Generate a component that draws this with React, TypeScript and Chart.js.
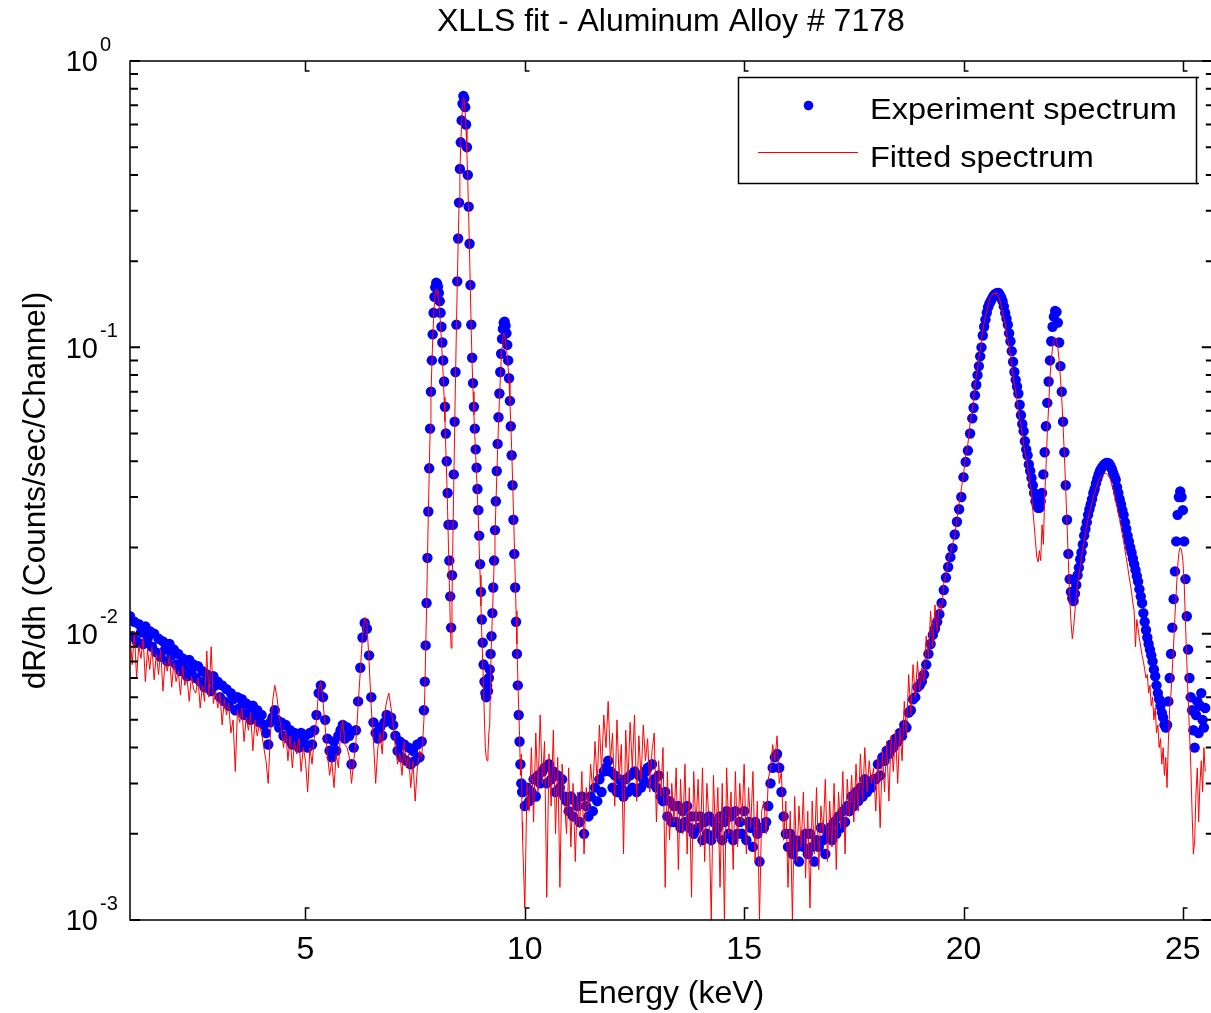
import { useEffect, useRef } from 'react';
import { Chart, registerables } from 'chart.js';

Chart.register(...registerables);

const FONT = "'Liberation Sans', Arial, Helvetica, sans-serif";

const chartTitle = 'XLLS fit - Aluminum Alloy # 7178';
const xAxisTitle = 'Energy (keV)';
const yAxisTitle = 'dR/dh (Counts/sec/Channel)';
const seriesLabels = ['Experiment spectrum', 'Fitted spectrum'];
const xTickValues = [5, 10, 15, 20, 25];
const yDecadeValues = [0.001, 0.01, 0.1, 1];
const yDecadeExponents = ['-3', '-2', '-1', '0'];
const yMinorMultipliers = [2, 3, 4, 5, 6, 7, 8, 9];
const xRange = [1, 25.66];
const yRange = [0.001, 1];

const energyKeV = [
  1.00,1.05,1.10,1.15,1.20,1.25,1.30,1.35,1.40,1.45,
  1.50,1.55,1.60,1.65,1.70,1.75,1.80,1.85,1.90,1.95,
  2.00,2.05,2.10,2.15,2.20,2.25,2.30,2.35,2.40,2.45,
  2.50,2.55,2.60,2.65,2.70,2.75,2.80,2.85,2.90,2.95,
  3.00,3.05,3.10,3.15,3.20,3.25,3.30,3.35,3.40,3.45,
  3.50,3.55,3.60,3.65,3.70,3.75,3.80,3.85,3.90,3.95,
  4.00,4.05,4.10,4.15,4.20,4.25,4.30,4.35,4.40,4.45,
  4.50,4.55,4.60,4.65,4.70,4.75,4.80,4.85,4.90,4.95,
  5.00,5.05,5.10,5.15,5.20,5.25,5.30,5.35,5.40,5.45,
  5.50,5.55,5.60,5.65,5.70,5.75,5.80,5.85,5.90,5.95,
  6.00,6.05,6.10,6.15,6.20,6.25,6.30,6.35,6.40,6.45,
  6.50,6.55,6.60,6.65,6.70,6.75,6.80,6.85,6.90,6.95,
  7.00,7.05,7.10,7.15,7.20,7.25,7.30,7.35,7.40,7.45,
  7.50,7.55,7.60,7.65,
  7.70,7.72,7.74,7.76,7.78,7.80,7.82,7.84,7.86,7.88,
  7.90,7.92,7.94,7.96,7.98,8.00,8.02,8.04,8.06,8.08,
  8.10,8.12,8.14,8.16,8.18,8.20,8.22,8.24,8.26,8.28,
  8.30,8.32,8.34,8.36,8.38,8.40,8.42,8.44,8.46,8.48,
  8.50,8.52,8.54,8.56,8.58,8.60,8.62,8.64,8.66,8.68,
  8.70,8.72,8.74,8.76,8.78,8.80,8.82,8.84,8.86,8.88,
  8.90,8.92,8.94,8.96,8.98,9.00,9.02,9.04,9.06,9.08,
  9.10,9.12,9.14,9.16,9.18,9.20,9.22,9.24,9.26,9.28,
  9.30,9.32,9.34,9.36,9.38,9.40,9.42,9.44,9.46,9.48,
  9.50,9.52,9.54,9.56,9.58,9.60,9.62,9.64,9.66,9.68,
  9.70,9.72,9.74,9.76,9.78,9.80,9.82,9.84,9.86,9.88,
  9.90,9.92,9.94,
  9.95,10.00,10.05,10.10,10.15,10.20,10.25,10.30,10.35,10.40,
  10.45,10.50,10.55,10.60,10.65,10.70,10.75,10.80,10.85,10.90,
  10.95,11.00,11.05,11.10,11.15,11.20,11.25,11.30,11.35,11.40,
  11.45,11.50,11.55,11.60,11.65,11.70,11.75,11.80,11.85,11.90,
  11.95,12.00,12.05,12.10,12.15,12.20,12.25,12.30,12.35,12.40,
  12.45,12.50,12.55,12.60,12.65,12.70,12.75,12.80,12.85,12.90,
  12.95,13.00,13.05,13.10,13.15,13.20,13.25,13.30,13.35,13.40,
  13.45,13.50,13.55,13.60,13.65,13.70,13.75,13.80,13.85,13.90,
  13.95,14.00,14.05,14.10,14.15,14.20,14.25,14.30,14.35,14.40,
  14.45,14.50,14.55,14.60,14.65,14.70,14.75,14.80,14.85,14.90,
  14.95,15.00,15.05,15.10,15.15,15.20,15.25,15.30,15.35,15.40,
  15.45,15.50,15.55,15.60,15.65,15.70,15.75,15.80,15.85,15.90,
  15.95,16.00,16.05,16.10,16.15,16.20,16.25,16.30,16.35,16.40,
  16.45,16.50,16.55,16.60,16.65,16.70,16.75,16.80,16.85,16.90,
  16.95,17.00,17.05,17.10,17.15,17.20,17.25,17.30,17.35,17.40,
  17.45,17.50,17.55,17.60,17.65,17.70,17.75,17.80,17.85,17.90,
  17.95,
  18.00,18.05,18.10,18.15,18.20,18.25,18.30,18.35,18.40,18.45,
  18.50,18.55,18.60,18.65,18.70,18.75,18.80,18.85,18.90,18.95,
  19.00,19.05,19.10,19.15,19.20,19.25,19.30,19.35,19.40,19.45,
  19.50,19.55,19.60,19.65,19.70,19.75,19.80,19.85,19.90,19.95,
  20.00,20.05,20.10,20.15,20.20,
  20.23,20.26,20.29,20.32,20.35,20.38,20.41,20.44,20.47,20.50,
  20.53,20.56,20.59,20.62,20.65,20.68,20.71,20.74,20.77,20.80,
  20.83,20.86,20.89,20.92,20.95,20.98,21.01,21.04,21.07,21.10,
  21.13,21.16,21.19,21.22,21.25,21.28,21.31,21.34,21.37,21.40,
  21.43,21.46,21.49,21.52,21.55,21.58,21.61,21.64,21.67,21.70,
  21.73,21.76,21.79,21.82,21.85,21.88,21.91,21.94,21.97,22.00,
  22.03,22.06,22.09,22.12,22.15,22.18,22.21,22.24,22.27,22.30,
  22.33,22.36,22.39,22.42,22.45,22.48,22.51,22.54,22.57,22.60,
  22.63,22.66,22.69,22.72,22.75,22.78,22.81,22.84,22.87,22.90,
  22.93,22.96,22.99,23.02,23.05,23.08,23.11,23.14,23.17,23.20,
  23.23,23.26,23.29,23.32,23.35,23.38,23.41,23.44,23.47,23.50,
  23.53,23.56,23.59,23.62,23.65,23.68,23.71,23.74,23.77,23.80,
  23.83,23.86,23.89,23.92,23.95,23.98,24.01,24.04,24.07,24.10,
  24.13,24.16,24.19,24.22,24.25,24.28,24.31,24.34,24.37,24.40,
  24.43,24.46,24.49,24.52,24.55,24.58,24.61,24.64,24.67,24.70,
  24.73,24.76,24.79,24.82,24.85,24.88,24.91,24.94,24.97,25.00,
  25.03,25.06,25.09,25.12,25.15,25.18,25.21,25.24,25.27,25.30,
  25.33,25.36,25.39,25.42,25.45,25.48,25.51,
];

const experimentSpectrum = [
  0.0115,0.0098,0.0110,0.0094,0.0108,0.0101,0.0092,0.0106,0.0096,0.0102,
  0.0090,0.0100,0.0086,0.0096,0.0083,0.0094,0.0088,0.0080,0.0092,0.0084,
  0.0088,0.0078,0.0085,0.0074,0.0082,0.0077,0.0071,0.0081,0.0073,0.0078,
  0.0070,0.0077,0.0068,0.0074,0.0065,0.0072,0.0069,0.0063,0.0071,0.0066,
  0.0068,0.0060,0.0066,0.0058,0.0064,0.0056,0.0062,0.0059,0.0054,0.0060,
  0.0055,0.0059,0.0052,0.0057,0.0053,0.0050,0.0056,0.0051,0.0054,0.0049,
  0.0052,0.0048,0.0045,0.0041,0.0049,0.0051,0.0054,0.0050,0.0047,0.0049,
  0.0044,0.0048,0.0043,0.0046,0.0041,0.0045,0.0043,0.0040,0.0045,0.0042,
  0.0044,0.0040,0.0045,0.0041,0.0046,0.0052,0.0062,0.0066,0.0060,0.0050,
  0.0043,0.0039,0.0037,0.0042,0.0039,0.0044,0.0046,0.0048,0.0043,0.0047,
  0.0044,0.0035,0.0040,0.0046,0.0058,0.0076,0.0097,0.0109,0.0104,0.0084,
  0.0060,0.0049,0.0045,0.0043,0.0047,0.0044,0.0049,0.0052,0.0050,0.0051,
  0.0048,0.0044,0.0039,0.0042,0.0037,0.0041,0.0036,0.0040,0.0035,0.0039,
  0.0036,0.0041,0.0037,0.0042,
  0.0054,0.0068,0.0091,0.0128,0.0184,0.0267,0.0378,0.052,0.070,0.090,
  0.111,0.132,0.150,0.162,0.168,0.167,0.163,0.155,0.145,0.132,
  0.118,0.104,0.090,0.076,0.062,0.050,0.040,0.031,0.024,0.018,
  0.0135,0.0105,0.016,0.024,0.036,0.055,0.082,0.12,0.17,0.24,
  0.32,0.42,0.52,0.62,0.71,0.755,0.74,0.69,0.60,0.50,
  0.40,0.31,0.23,0.165,0.12,0.092,0.075,0.062,0.052,0.044,
  0.038,0.032,0.027,0.022,0.0175,0.014,0.0112,0.0093,0.0078,0.0068,
  0.0062,0.0060,0.0066,0.0063,0.0070,0.0075,0.0085,0.0098,0.0118,0.0145,
  0.018,0.023,0.029,0.037,0.046,0.057,0.069,0.082,0.095,0.107,
  0.116,0.122,0.123,0.119,0.112,0.102,0.090,0.078,0.065,0.053,
  0.042,0.033,0.025,0.019,0.0145,0.011,0.0085,0.0066,0.0052,0.0042,
  0.0035,0.0030,0.0028,
  0.0028,0.0025,0.0029,0.0026,0.0028,0.0031,0.0027,0.0032,0.0030,0.0033,
  0.0034,0.0030,0.0035,0.0031,0.0033,0.0028,0.0032,0.0029,0.0031,0.0027,
  0.0026,0.0024,0.0027,0.0023,0.0026,0.0025,0.0022,0.0027,0.0020,0.0025,
  0.0023,0.0027,0.0024,0.0029,0.0026,0.0031,0.0028,0.0033,0.0034,0.0036,
  0.0033,0.0029,0.0032,0.0028,0.0031,0.0029,0.0027,0.0031,0.0028,0.0032,
  0.0029,0.0033,0.0028,0.0032,0.0029,0.0031,0.0033,0.0034,0.0030,0.0035,
  0.0031,0.0029,0.0032,0.0027,0.0026,0.0028,0.0023,0.0026,0.0022,0.0025,
  0.0022,0.0025,0.0021,0.0024,0.0022,0.0025,0.0021,0.0023,0.0020,0.0023,
  0.0021,0.0023,0.0019,0.0022,0.0020,0.0023,0.0019,0.0022,0.0020,0.0021,
  0.0023,0.0019,0.0022,0.0024,0.0020,0.0023,0.0019,0.0024,0.0020,0.0022,
  0.0020,0.0024,0.0019,0.0022,0.0021,0.0018,0.0022,0.0020,0.0016,0.0021,
  0.0021,0.0022,0.0025,0.0030,0.0034,0.0037,0.0038,0.0034,0.0028,0.0023,
  0.0020,0.0018,0.0020,0.0017,0.0019,0.0018,0.0016,0.0019,0.0018,0.0020,
  0.0017,0.0020,0.0018,0.0016,0.0019,0.0018,0.0021,0.0019,0.0017,0.0020,
  0.0021,0.0019,0.0022,0.0020,0.0023,0.0021,0.0024,0.0022,0.0025,0.0024,
  0.0027,0.0025,0.0028,0.0026,0.0029,0.0027,0.0031,0.0028,0.0030,0.0029,
  0.0031,
  0.0031,0.0035,0.0032,0.0037,0.0036,0.0039,0.0038,0.0041,0.0040,0.0043,
  0.0042,0.0045,0.0044,0.0048,0.0047,0.0053,0.0054,0.0059,0.0060,0.0065,
  0.0066,0.0068,0.0072,0.0078,0.0085,0.0092,0.0099,0.0104,0.0110,0.0117,
  0.0128,0.0142,0.0157,0.0171,0.0185,0.0199,0.0222,0.0246,0.0272,0.0300,
  0.0352,0.0398,0.0436,0.0500,0.0565,
  0.0615,0.068,0.074,0.080,0.086,0.093,0.100,0.110,0.118,0.125,
  0.132,0.138,0.142,0.145,0.148,0.151,0.153,0.154,0.155,0.155,
  0.152,0.149,0.145,0.139,0.132,0.126,0.120,0.112,0.105,0.097,
  0.089,0.082,0.077,0.073,0.069,0.063,0.058,0.054,0.051,0.047,
  0.044,0.042,0.039,0.037,0.035,0.033,0.031,0.029,0.028,0.0275,
  0.0275,0.029,0.031,0.036,0.043,0.053,0.064,0.076,0.090,0.105,
  0.118,0.128,0.134,0.133,0.122,0.104,0.086,0.070,0.055,0.043,
  0.033,0.025,0.019,0.0155,0.014,0.0133,0.013,0.0138,0.0148,0.016,
  0.017,0.0182,0.0192,0.0205,0.022,0.0232,0.0245,0.026,0.0272,0.0283,
  0.0295,0.031,0.032,0.0335,0.0348,0.036,0.037,0.0377,0.0383,0.0388,
  0.0392,0.0395,0.0395,0.0392,0.0385,0.0376,0.0365,0.0355,0.0345,0.0325,
  0.031,0.0295,0.0283,0.027,0.026,0.0245,0.0232,0.022,0.021,0.020,
  0.0192,0.0183,0.0175,0.0167,0.0159,0.0152,0.0143,0.0135,0.0128,0.0118,
  0.011,0.0103,0.0097,0.0092,0.0088,0.0084,0.008,0.0075,0.0071,0.0066,
  0.0062,0.0059,0.0056,0.0053,0.0051,0.0048,0.0047,0.0048,0.0058,0.0070,
  0.0085,0.0105,0.0132,0.0165,0.021,0.026,0.030,0.0314,0.030,0.027,
  0.021,0.0155,0.0115,0.0088,0.0070,0.0060,0.0054,0.0046,0.0040,0.0052,
  0.0058,0.0045,0.0056,0.0062,0.0050,0.0047,0.0055,
];

const fittedSpectrum = [
  0.0098,0.0078,0.0102,0.0070,0.0091,0.0082,0.0096,0.0068,0.0088,0.0075,
  0.0090,0.0069,0.0085,0.0072,0.0088,0.0063,0.0080,0.0074,0.0084,0.0065,
  0.0079,0.0068,0.0074,0.0061,0.0077,0.0066,0.0070,0.0058,0.0071,0.0064,
  0.0062,0.0070,0.0055,0.0066,0.0058,0.0087,0.0060,0.0090,0.0057,0.0063,
  0.0055,0.0062,0.0048,0.0059,0.0052,0.0057,0.0045,0.0050,0.0033,0.0054,
  0.0049,0.0055,0.0042,0.0051,0.0046,0.0053,0.0039,0.0050,0.0044,0.0048,
  0.0045,0.0040,0.0036,0.0030,0.0044,0.0058,0.0066,0.0060,0.0052,0.0046,
  0.0040,0.0046,0.0036,0.0044,0.0034,0.0042,0.0038,0.0043,0.0033,0.0040,
  0.0036,0.0028,0.0040,0.0035,0.0043,0.0050,0.0064,0.0068,0.0058,0.0047,
  0.0038,0.0032,0.0036,0.0029,0.0038,0.0034,0.0045,0.0050,0.0041,0.0040,
  0.0037,0.0030,0.0036,0.0042,0.0056,0.0074,0.0098,0.0114,0.0108,0.0080,
  0.0055,0.0042,0.0030,0.0040,0.0045,0.0038,0.0052,0.0058,0.0062,0.0055,
  0.0048,0.0040,0.0035,0.0038,0.0032,0.0042,0.0034,0.0038,0.0029,0.0036,
  0.0026,0.0034,0.0039,0.0037,
  0.0050,0.0062,0.0088,0.0122,0.018,0.026,0.036,0.050,0.067,0.086,
  0.106,0.126,0.143,0.155,0.160,0.158,0.152,0.143,0.132,0.119,
  0.105,0.092,0.079,0.067,0.055,0.044,0.035,0.027,0.020,0.015,
  0.011,0.0089,0.013,0.021,0.033,0.051,0.078,0.115,0.165,0.23,
  0.31,0.41,0.51,0.61,0.70,0.745,0.73,0.67,0.58,0.48,
  0.38,0.29,0.215,0.155,0.112,0.086,0.070,0.058,0.049,0.042,
  0.036,0.030,0.025,0.020,0.016,0.0125,0.0098,0.0080,0.0064,0.0050,
  0.0040,0.0037,0.0036,0.0038,0.0045,0.0048,0.0072,0.0095,0.0115,0.014,
  0.0175,0.022,0.028,0.035,0.044,0.054,0.065,0.077,0.089,0.100,
  0.108,0.112,0.110,0.106,0.100,0.093,0.085,0.076,0.065,0.054,
  0.044,0.035,0.027,0.021,0.016,0.012,0.0092,0.0070,0.0055,0.0044,
  0.0032,0.0038,0.0022,
  0.0019,0.0011,0.0030,0.0024,0.0040,0.0022,0.0045,0.0028,0.0052,0.0030,
  0.0042,0.0012,0.0038,0.0025,0.0046,0.0020,0.0037,0.0013,0.0035,0.0027,
  0.0020,0.0034,0.0018,0.0030,0.0016,0.0028,0.0021,0.0033,0.0017,0.0029,
  0.0024,0.0035,0.0028,0.0042,0.0030,0.0048,0.0033,0.0052,0.0040,0.0058,
  0.0036,0.0045,0.0025,0.0050,0.0031,0.0041,0.0017,0.0046,0.0030,0.0049,
  0.0034,0.0052,0.0026,0.0044,0.0031,0.0048,0.0036,0.0043,0.0028,0.0039,
  0.0045,0.0022,0.0036,0.0027,0.0040,0.0013,0.0033,0.0019,0.0030,0.0022,
  0.0034,0.0015,0.0031,0.0020,0.0035,0.0017,0.0029,0.0012,0.0033,0.0021,
  0.0031,0.0018,0.0034,0.0016,0.0030,0.0022,0.0010,0.0032,0.0019,0.0029,
  0.0013,0.0030,0.0010,0.0034,0.0020,0.0028,0.0015,0.0033,0.0018,0.0030,
  0.0022,0.0035,0.0017,0.0029,0.0021,0.0033,0.0016,0.0026,0.0010,0.0024,
  0.0026,0.0020,0.0031,0.0034,0.0041,0.0036,0.0044,0.0030,0.0033,0.0019,
  0.0026,0.0013,0.0024,0.0010,0.0027,0.0016,0.0025,0.0018,0.0028,0.0014,
  0.0024,0.0011,0.0026,0.0017,0.0029,0.0015,0.0025,0.0020,0.0031,0.0016,
  0.0026,0.0018,0.0030,0.0015,0.0028,0.0021,0.0033,0.0017,0.0031,0.0023,
  0.0032,0.0022,0.0035,0.0024,0.0038,0.0026,0.0040,0.0028,0.0036,0.0030,
  0.0034,
  0.0024,0.0037,0.0021,0.0039,0.0028,0.0042,0.0026,0.0044,0.0033,0.0046,
  0.0030,0.0047,0.0036,0.0058,0.0044,0.0072,0.0052,0.0078,0.0060,0.0080,
  0.0063,0.0076,0.0068,0.0098,0.0082,0.0120,0.0090,0.0126,0.0102,0.0128,
  0.0120,0.0150,0.0160,0.0180,0.0190,0.0205,0.0220,0.0250,0.0285,0.0320,
  0.0360,0.0420,0.0460,0.0540,0.0600,
  0.066,0.072,0.079,0.084,0.092,0.098,0.106,0.114,0.122,0.128,
  0.134,0.140,0.146,0.150,0.152,0.155,0.153,0.156,0.152,0.150,
  0.146,0.140,0.132,0.126,0.121,0.113,0.106,0.100,0.094,0.086,
  0.080,0.074,0.070,0.065,0.060,0.057,0.053,0.050,0.046,0.043,
  0.041,0.038,0.036,0.033,0.031,0.027,0.024,0.021,0.0185,0.0178,
  0.0195,0.0180,0.024,0.0205,0.030,0.038,0.050,0.062,0.078,0.090,
  0.100,0.106,0.108,0.106,0.100,0.090,0.078,0.066,0.053,0.042,
  0.032,0.024,0.018,0.0135,0.011,0.0096,0.0105,0.0120,0.0135,0.0150,
  0.0160,0.0172,0.0185,0.0198,0.0210,0.0225,0.0238,0.0252,0.0265,0.0275,
  0.0288,0.0300,0.0312,0.0322,0.0333,0.0342,0.0350,0.0356,0.0360,0.0362,
  0.0363,0.0362,0.0358,0.0352,0.0345,0.0330,0.0320,0.0305,0.0290,0.0278,
  0.0262,0.0250,0.0236,0.0222,0.0210,0.0196,0.0184,0.0172,0.0160,0.0150,
  0.0140,0.0128,0.0120,0.0090,0.0112,0.0104,0.0096,0.0090,0.0084,0.0080,
  0.0075,0.0070,0.0072,0.0062,0.0066,0.0056,0.0060,0.0050,0.0055,0.0045,
  0.0048,0.0040,0.0043,0.0035,0.0040,0.0032,0.0037,0.0029,0.0042,0.0055,
  0.0062,0.0075,0.0092,0.0115,0.0140,0.0170,0.0192,0.0200,0.0196,0.0180,
  0.0150,0.0110,0.0080,0.0060,0.0046,0.0035,0.0024,0.0017,0.0019,0.0028,
  0.0034,0.0022,0.0030,0.0036,0.0028,0.0040,0.0033,
];

const matlabAxesPlugin = {
  id: 'matlabAxes',
  afterDraw(chart: any) {
    const { ctx, chartArea, scales } = chart;
    const xs = scales.x;
    const ys = scales.y;
    const { left, right, top, bottom } = chartArea;
    ctx.save();
    ctx.strokeStyle = '#000';
    ctx.lineWidth = 1.5;
    ctx.strokeRect(left, top, right - left, bottom - top);
    ctx.beginPath();
    xTickValues.forEach((v) => {
      const px = Math.round(xs.getPixelForValue(v)) + 0.5;
      ctx.moveTo(px, bottom);
      ctx.lineTo(px, bottom - 12);
      ctx.lineTo(px + 4, bottom - 12);
      ctx.moveTo(px, top);
      ctx.lineTo(px, top + 10);
      ctx.lineTo(px + 4, top + 10);
    });
    ctx.stroke();
    ctx.lineWidth = 2;
    ctx.beginPath();
    yDecadeValues.forEach((d, i) => {
      const py = ys.getPixelForValue(d);
      ctx.moveTo(left, py);
      ctx.lineTo(left + 10, py);
      ctx.moveTo(right, py);
      ctx.lineTo(right - 10, py);
      if (i < yDecadeValues.length - 1) {
        yMinorMultipliers.forEach((m) => {
          const pm = ys.getPixelForValue(d * m);
          ctx.moveTo(left, pm);
          ctx.lineTo(left + 8, pm);
          ctx.moveTo(right, pm);
          ctx.lineTo(right - 6, pm);
        });
      }
    });
    ctx.stroke();
    ctx.fillStyle = '#000';
    ctx.textBaseline = 'alphabetic';
    yDecadeValues.forEach((d, i) => {
      const py = ys.getPixelForValue(d);
      ctx.font = `29px ${FONT}`;
      ctx.textAlign = 'right';
      ctx.fillText('10', left - 32, py + 10.4);
      ctx.font = `20px ${FONT}`;
      ctx.textAlign = 'left';
      ctx.fillText(yDecadeExponents[i], left - 30, py - 10.3);
    });
    const lx = 738, ly = 77, lw = 458, lh = 106;
    ctx.fillStyle = '#fff';
    ctx.fillRect(lx, ly, lw, lh);
    ctx.strokeStyle = '#000';
    ctx.lineWidth = 1.5;
    ctx.strokeRect(lx + 0.5, ly + 0.5, lw, lh);
    ctx.beginPath();
    ctx.moveTo(lx + lw, ly + 0.5);
    ctx.lineTo(lx + lw + 3, ly + 0.5);
    ctx.moveTo(lx + lw, ly + lh + 0.5);
    ctx.lineTo(lx + lw + 3, ly + lh + 0.5);
    ctx.stroke();
    ctx.fillStyle = '#0000ff';
    ctx.beginPath();
    ctx.arc(808.5, 105.5, 4.8, 0, Math.PI * 2);
    ctx.fill();
    ctx.strokeStyle = '#ff0000';
    ctx.lineWidth = 1;
    ctx.beginPath();
    ctx.moveTo(758, 152.5);
    ctx.lineTo(858, 152.5);
    ctx.stroke();
    ctx.fillStyle = '#000';
    ctx.font = `29px ${FONT}`;
    ctx.textAlign = 'left';
    ctx.textBaseline = 'alphabetic';
    ctx.save();
    ctx.translate(870, 119.4);
    ctx.scale(1.12, 1);
    ctx.fillText(seriesLabels[0], 0, 0);
    ctx.restore();
    ctx.save();
    ctx.translate(870, 167.4);
    ctx.scale(1.12, 1);
    ctx.fillText(seriesLabels[1], 0, 0);
    ctx.restore();
    ctx.restore();
  },
};

export default function App() {
  const canvasRef = useRef<HTMLCanvasElement | null>(null);

  useEffect(() => {
    const canvas = canvasRef.current;
    if (!canvas) return;
    Chart.defaults.font.family = FONT;
    Chart.defaults.color = '#000';
    const expPoints = energyKeV.map((x, i) => ({ x, y: experimentSpectrum[i] }));
    const fitPoints = energyKeV.map((x, i) => ({ x, y: fittedSpectrum[i] }));
    const chart = new Chart(canvas, {
      type: 'line',
      data: {
        datasets: [
          {
            label: seriesLabels[1],
            data: fitPoints,
            borderColor: '#ff0000',
            borderWidth: 1,
            pointRadius: 0,
            fill: false,
            tension: 0,
            order: 1,
          },
          {
            label: seriesLabels[0],
            data: expPoints,
            showLine: false,
            pointRadius: 5.2,
            pointHoverRadius: 5.2,
            pointBackgroundColor: '#0000ff',
            pointBorderColor: '#0000ff',
            pointBorderWidth: 0,
            borderColor: '#0000ff',
            order: 2,
          },
        ],
      },
      options: {
        responsive: false,
        maintainAspectRatio: false,
        animation: false,
        devicePixelRatio: 1,
        layout: { padding: 0 },
        events: [],
        plugins: {
          legend: { display: false },
          tooltip: { enabled: false },
          title: {
            display: true,
            text: chartTitle,
            fullSize: false,
            color: '#000',
            font: { family: FONT, size: 32, weight: 'normal' },
            padding: { top: 3, bottom: 19.6 },
          },
        },
        scales: {
          x: {
            type: 'linear',
            min: xRange[0],
            max: xRange[1],
            grid: { display: false, drawTicks: false },
            border: { display: false },
            afterBuildTicks: (axis: any) => {
              axis.ticks = xTickValues.map((value) => ({ value }));
            },
            afterFit: (axis: any) => {
              axis.height = 93;
              axis.paddingLeft = 0;
              axis.paddingRight = 0;
            },
            ticks: {
              autoSkip: false,
              maxRotation: 0,
              padding: 11,
              color: '#000',
              font: { family: FONT, size: 32 },
              callback: (v: any) => String(v),
            },
            title: {
              display: true,
              text: xAxisTitle,
              color: '#000',
              font: { family: FONT, size: 32 },
              padding: { top: 0, bottom: 0 },
            },
          },
          y: {
            type: 'logarithmic',
            min: yRange[0],
            max: yRange[1],
            grid: { display: false, drawTicks: false },
            border: { display: false },
            ticks: { display: false },
            afterFit: (axis: any) => {
              axis.width = 130;
              axis.paddingTop = 0;
              axis.paddingBottom = 0;
            },
            title: {
              display: true,
              text: yAxisTitle,
              color: '#000',
              font: { family: FONT, size: 31.5 },
              padding: { top: 17.6, bottom: 0 },
            },
          },
        },
      },
      plugins: [matlabAxesPlugin],
    });
    return () => chart.destroy();
  }, []);

  return (
    <div
      style={{
        position: 'fixed',
        left: 0,
        top: 0,
        width: 1211,
        height: 1013,
        overflow: 'hidden',
        background: '#fff',
      }}
    >
      <canvas
        ref={canvasRef}
        width={1217}
        height={1013}
        style={{ display: 'block', width: 1217, height: 1013 }}
      />
    </div>
  );
}
